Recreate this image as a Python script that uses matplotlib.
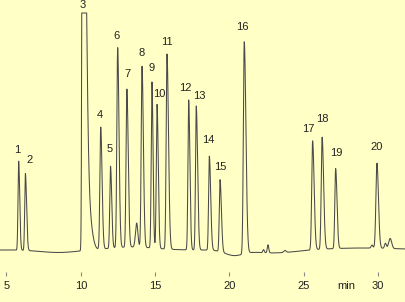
import matplotlib.pyplot as plt
import numpy as np

# numbered peaks: retention time (min), height (detector units), left / right width (min)
peak_names = [str(i) for i in range(1, 21)]
peak_times = [5.82, 6.27, 10.115, 11.34, 12.00, 12.48, 13.10, 14.12, 14.79, 15.13,
              15.80, 17.26, 17.77, 18.65, 19.37, 21.00, 25.60, 26.24, 27.15, 29.93]
peak_heights = [89, 77, 600, 122, 82, 200, 158, 181, 166, 144,
                195, 150, 144, 94, 72, 212, 109, 112, 80, 85]
sigma_left = [0.045, 0.045, 0.04, 0.055, 0.05, 0.055, 0.055, 0.055, 0.05, 0.05,
              0.055, 0.05, 0.05, 0.05, 0.05, 0.06, 0.06, 0.06, 0.055, 0.07]
sigma_right = [0.07, 0.08, 0.20, 0.09, 0.08, 0.09, 0.09, 0.09, 0.07, 0.08,
               0.10, 0.08, 0.09, 0.09, 0.09, 0.11, 0.10, 0.10, 0.09, 0.10]

# small unlabelled peaks and shoulders
minor_times = [10.60, 13.76, 22.30, 22.60, 23.74, 29.60, 30.50, 30.82]
minor_heights = [25, 24, 3, 8, 2, 3, 5, 10]
minor_sigmas = [0.20, 0.08, 0.05, 0.05, 0.08, 0.06, 0.06, 0.10]

# slow baseline drift
drift_times = [8.5, 13.5, 20.3, 23.0, 29.0]
drift_heights = [-2.5, 3.0, -5.0, -3.0, 2.0]
drift_sigmas = [1.2, 1.5, 0.6, 1.5, 2.5]

detector_max = 237
xticks = [5, 10, 15, 20, 25, 30]

# label nudges (px right, units above peak top)
label_dx = [-1.4, 3.7, 0, -1, -0.7, -0.7, 1, 0, 0, 2, 0, -3, 3, -1, 0.7, -1.6, -4.3, 0, 0.3, 0]
label_dy = [11.7, 13.7, 8, 12, 17, 12, 14.7, 13, 14, 10, 12, 12, 10, 16, 13, 15, 12, 18, 16, 16]

px_per_min = 14.86

t = np.linspace(4.4, 32, 6000)
signal = np.zeros_like(t)
for c, h, sl, sr in zip(peak_times, peak_heights, sigma_left, sigma_right):
    s = np.where(t < c, sl, sr)
    signal += h * np.exp(-0.5 * ((t - c) / s) ** 2)
for c, h, s in zip(minor_times, minor_heights, minor_sigmas):
    signal += h * np.exp(-0.5 * ((t - c) / s) ** 2)
for c, h, s in zip(drift_times, drift_heights, drift_sigmas):
    signal += h * np.exp(-0.5 * ((t - c) / s) ** 2)
signal = np.minimum(signal, detector_max)

bg = '#ffffc6'
fig = plt.figure(figsize=(4.05, 3.02), dpi=100, facecolor=bg)
ax = fig.add_axes([0, 0, 1, 1])
ax.set_facecolor(bg)
ax.axis('off')

ax.plot(t, signal, color='#4a4a4a', lw=0.75)

ax.set_xlim(5 - 6.5 / px_per_min, 5 + 398.5 / px_per_min)
ax.set_ylim(-52, 250)

font = dict(family=['Liberation Sans', 'DejaVu Sans'], fontsize=8, color='#222222')

for name, c, dx, dy in zip(peak_names, peak_times, label_dx, label_dy):
    top = signal[np.abs(t - c) < 0.15].max()
    ax.text(c + dx / px_per_min, top + dy, name, ha='center', va='center', **font)

ax.vlines(xticks, -25.5, -21.5, color='#8a8a8a', lw=0.8)
for x in xticks:
    ax.text(x, -36, str(x), ha='center', va='center', **font)
ax.text(5 + 340.2 / px_per_min, -36, 'min', ha='center', va='center', **font)

fig.savefig('out.png', dpi=100, facecolor=bg)
